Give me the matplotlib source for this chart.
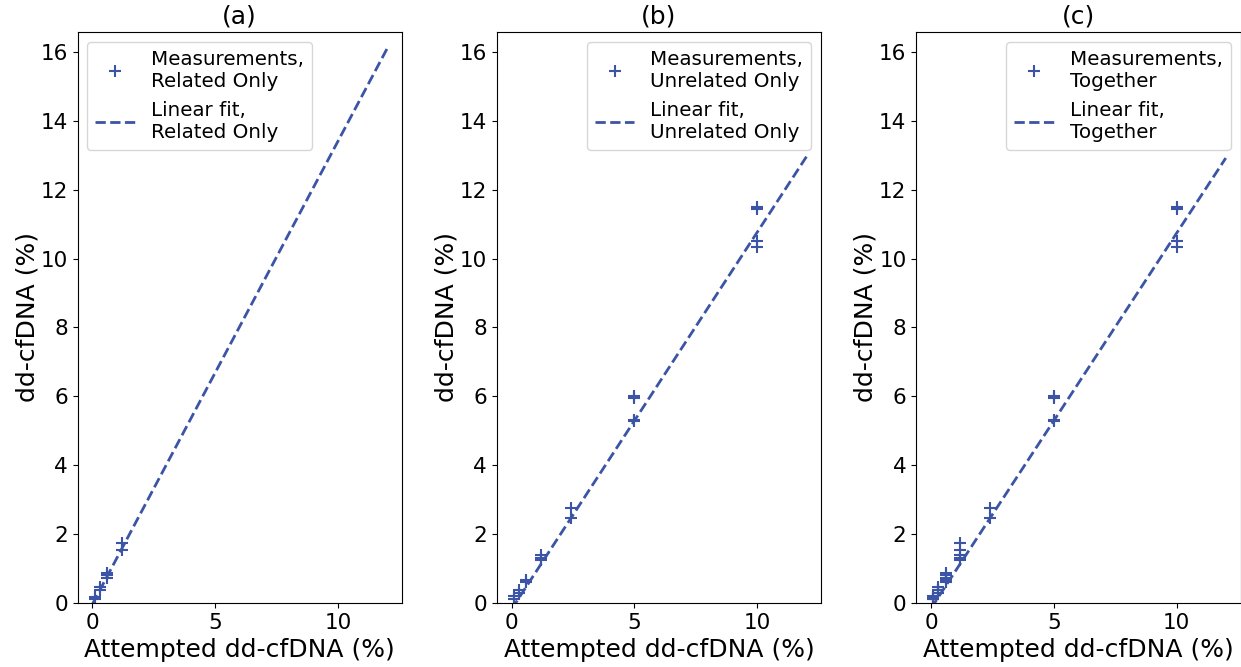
import matplotlib
matplotlib.use('Agg')
import matplotlib.pyplot as plt
import numpy as np

# --- Data ---
related_x = [0.1, 0.1, 0.3, 0.3, 0.6, 0.6, 0.6, 1.2, 1.2]
related_y = [0.12, 0.17, 0.38, 0.45, 0.72, 0.80, 0.86, 1.55, 1.75]

unrelated_x = [0.1, 0.1, 0.3, 0.3, 0.6, 0.6, 1.2, 1.2, 1.2,
               2.4, 2.4, 5, 5, 5, 5, 10, 10, 10, 10]
unrelated_y = [0.11, 0.20, 0.30, 0.38, 0.60, 0.67, 1.25, 1.30, 1.40,
               2.47, 2.75, 5.27, 5.30, 5.95, 6.00, 10.35, 10.50, 11.45, 11.50]

together_x = related_x + unrelated_x
together_y = related_y + unrelated_y

# linear fit coefficients (slope, intercept) as drawn
fit_slopes = [1.345, 1.095, 1.09]
fit_intercepts = [-0.04, -0.18, -0.16]
fit_range = [0, 12]

panel_titles = ['(a)', '(b)', '(c)']
group_names = ['Related Only', 'Unrelated Only', 'Together']
legend_locs = ['upper left', 'upper right', 'upper right']

color = '#3B54A5'

fig, axes = plt.subplots(1, 3, figsize=(12.41, 6.67), dpi=100)
fig.subplots_adjust(left=0.0625, right=0.9996, bottom=0.096, top=0.952, wspace=0.293)

datasets = [(related_x, related_y), (unrelated_x, unrelated_y), (together_x, together_y)]

for i, ax in enumerate(axes):
    xs, ys = datasets[i]
    ax.plot(xs, ys, linestyle='none', marker='+', markersize=9, markeredgewidth=1.5,
            color=color, label='Measurements,\n' + group_names[i])
    fx = np.array(fit_range, dtype=float)
    fy = fit_slopes[i] * fx + fit_intercepts[i]
    ax.plot(fx, fy, linestyle='--', linewidth=2, color=color,
            label='Linear fit,\n' + group_names[i])
    ax.set_ylim(0, 16.58)
    ax.set_xticks([0, 5, 10])
    ax.set_yticks(np.arange(0, 17, 2))
    ax.tick_params(labelsize=15.5)
    ax.set_xlabel('Attempted dd-cfDNA (%)', fontsize=18)
    ax.set_ylabel('dd-cfDNA (%)', fontsize=18, labelpad=1)
    ax.set_title(panel_titles[i], fontsize=18)
    ax.legend(loc=legend_locs[i], fontsize=14.3)

plt.savefig('out.png', dpi=100)
